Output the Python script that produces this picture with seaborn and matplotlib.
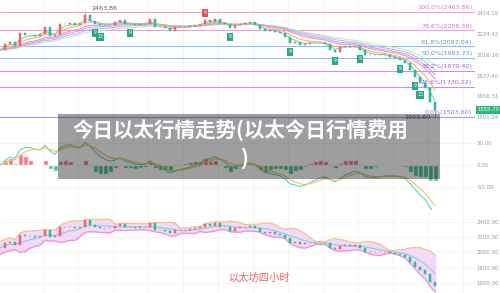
import numpy as np
import pandas as pd
import matplotlib
matplotlib.use("Agg")
import matplotlib.pyplot as plt
import matplotlib.transforms as mtrans
from matplotlib.patches import Rectangle
import seaborn as sns

# ---------------- data ----------------
close = [2061, 2120, 2140, 2100, 2232, 2212, 2212, 2201, 2222, 2296,
         2201, 2212, 2329, 2329, 2340, 2318, 2340, 2430, 2362, 2329,
         2318, 2318, 2318, 2351, 2373, 2329, 2329, 2318, 2329, 2329,
         2384, 2296, 2296, 2285, 2253, 2296, 2296, 2296, 2307, 2318,
         2329, 2373, 2351, 2384, 2340, 2329, 2285, 2318, 2329, 2340,
         2351, 2318, 2275, 2253, 2264, 2243, 2232, 2191, 2130, 2140,
         2110, 2120, 2130, 2130, 2130, 2120, 2061, 2042, 2090, 2100,
         2090, 2100, 2061, 2013, 2013, 2013, 2013, 2013, 1994, 1985,
         1966, 1939, 1876, 1815, 1765, 1724, 1615, 1555.7]
peak_high = 2463.86
peak_index = 17
last_low = 1503.60
last_price_label = "1555.70"

fib_pct = ["100.0%", "78.6%", "61.8%", "50.0%", "38.2%", "23.6%", "0.0%"]
fib_price = [2463.86, 2258.36, 2097.04, 1983.73, 1870.42, 1730.22, 1503.60]
fib_color = ["#f59ad8", "#f59ad8", "#93b8f2", "#93b8f2", "#c98ef0", "#c98ef0", "#a99af0"]
fib_text_color = ["#e070c8", "#e070c8", "#5f8fe6", "#5f8fe6", "#a562dc", "#a562dc", "#7f7ee8"]

ma_spans = [3, 6, 11, 14, 18, 23]
ma_colors = ["#6fd8c4", "#f8b85a", "#f58fcf", "#d6a0f0", "#9cc8f2", "#cfe8b0"]

main_ticks = [2454.19, 2224.42, 2016.16, 1827.40, 1656.31, 1501.24]
main_tick_labels = ["2454.19", "2224.42", "2016.16", "1827.40", "1656.31", "1501.24"]
macd_ticks = [50, 0, -50]
macd_tick_labels = ["50.00", "0.00", "-50.00"]
boll_ticks = [2400, 2200, 2000, 1800, 1600]
boll_tick_labels = ["2400.00", "2200.00", "2000.00", "1800.00", "1600.00"]

td_index = [19, 20, 26, 41, 46, 58, 67, 72, 80, 83, 84]
td_text = ["9", "13", "9", "9", "9", "9", "9", "9", "9", "9", "13"]
td_sell = [False, False, False, True, False, False, False, False, False, False, False]

title_line1 = "今日以太行情走势(以太今日行情费用"
title_line2 = ")"
caption = "以太坊四小时"

# ---------------- derived indicators ----------------
s = pd.Series(close, dtype=float)
idx = np.arange(len(s))
emas = [s.ewm(span=sp, adjust=False).mean() for sp in ma_spans]
dif = s.ewm(span=4.8, adjust=False).mean() - s.ewm(span=10.4, adjust=False).mean()
dea = dif.ewm(span=3.6, adjust=False).mean()
hist = 2 * (dif - dea)
mid = s.rolling(6, min_periods=1).mean()
sd = s.rolling(6, min_periods=2).std(ddof=1).bfill()
upper = mid + 2 * sd
lower = mid - 2 * sd

# ---------------- figure ----------------
sns.set_theme(style="white")
plt.rcParams['font.family'] = ['DejaVu Sans']
W, H = 500, 293
RIGHT = 475
fig = plt.figure(figsize=(W / 100, H / 100), dpi=100)
fig.patch.set_facecolor("white")

def rect(top, bottom):
    return [0, 1 - bottom / H, RIGHT / W, (bottom - top) / H]

ax1 = fig.add_axes(rect(0, 121))
ax2 = fig.add_axes(rect(121, 210))
ax3 = fig.add_axes(rect(210, 293))
XMAX = RIGHT / 5.0

UP, DOWN = "#f0646e", "#34b894"

def candles(ax, series, width=0.5):
    o = series.shift(1).fillna(series.iloc[0])
    cols = [UP if c >= op else DOWN for c, op in zip(series, o)]
    ax.bar(idx, (series - o).abs(), bottom=np.minimum(o, series), width=width,
           color=cols, edgecolor=cols, linewidth=0.35, zorder=4)

grid_x = np.arange(8.6, XMAX, 7)
for ax in (ax1, ax2, ax3):
    ax.set_xlim(0, XMAX)
    for gx in grid_x:
        ax.axvline(gx, color="#f3f3f3", lw=0.6, zorder=0)
    for sp in ax.spines.values():
        sp.set_visible(False)
    ax.set_xticks([])
    ax.yaxis.tick_right()
    ax.tick_params(axis="y", length=0, pad=1.2, labelsize=3.9, labelcolor="#9a9a9a")
    ax.set_xlabel("")
    ax.set_ylabel("")

# ---- main price panel ----
ax1.set_yscale("log")
for p, c in zip(fib_price, fib_color):
    ax1.axhline(p, color=c, lw=0.8, zorder=1)
for ema, c in zip(emas[::-1], ma_colors[::-1]):
    sns.lineplot(x=idx, y=ema.values, ax=ax1, color=c, lw=0.8, legend=False, zorder=3)
candles(ax1, s)
ax1.vlines(len(s) - 1, last_low, s.iloc[-1], color=UP, lw=0.5, zorder=4)
ax1.vlines(peak_index, s.iloc[peak_index], peak_high, color=UP, lw=0.5, zorder=4)
ax1.set_ylim(1475.6, 2606)
ax1.set_yticks(main_ticks)
ax1.set_yticklabels(main_tick_labels)
ax1.yaxis.set_minor_locator(matplotlib.ticker.NullLocator())
tr = mtrans.blended_transform_factory(ax1.transAxes, ax1.transData)
for pct, p, tc in zip(fib_pct, fib_price, fib_text_color):
    ax1.annotate(f"{pct}({p:.2f})", xy=(0.994, p), xycoords=tr, xytext=(0, 1.2),
                 textcoords="offset points", ha="right", va="bottom",
                 fontsize=4.6, color=tc, zorder=6)
ax1.annotate(f"{peak_high:.2f}", xy=(peak_index, peak_high), xytext=(5, 0.5),
             textcoords="offset points", ha="left", va="bottom", fontsize=4.6,
             color="#555555", arrowprops=dict(arrowstyle="-", color="#777777", lw=0.4))
ax1.annotate(f"{last_low:.2f}", xy=(len(s) - 1, last_low), xytext=(-3, 0),
             textcoords="offset points", ha="right", va="center", fontsize=4.6,
             color="#555555", zorder=6)
ax1.annotate(last_price_label, xy=(1.0, s.iloc[-1]), xycoords=tr, xytext=(1.6, 0),
             textcoords="offset points", ha="left", va="center", fontsize=3.9,
             color="white", annotation_clip=False, zorder=7,
             bbox=dict(boxstyle="square,pad=0.3", fc="#2cb67d", ec="none"))
for i, t, sell in zip(td_index, td_text, td_sell):
    off = 5.0 if sell else (-6.5 if t == "9" else -8.6)
    ax1.annotate(t, xy=(i, close[i]), xytext=(0, off), textcoords="offset points",
                 ha="center", va="center", fontsize=3.3, color="white", zorder=8,
                 bbox=dict(boxstyle="square,pad=0.3", fc="#e0505e" if sell else "#2aa883", ec="none"))

# ---- MACD panel ----
for yv in macd_ticks:
    ax2.axhline(yv, color="#f3f3f3", lw=0.6, zorder=0)
ax2.bar(idx, hist, width=1.0, color=[UP if h > 0 else DOWN for h in hist], alpha=0.85, zorder=2)
sns.lineplot(x=idx, y=dif.values, ax=ax2, color="#62d6c4", lw=0.8, legend=False, zorder=3)
sns.lineplot(x=idx, y=dea.values, ax=ax2, color="#f6c262", lw=0.8, legend=False, zorder=3)
for ln in ax2.lines:
    ln.set_clip_on(False)
ax2.set_ylim(-102.3, 100)
ax2.set_yticks(macd_ticks)
ax2.set_yticklabels(macd_tick_labels)

# ---- Bollinger panel ----
for yv in boll_ticks:
    ax3.axhline(yv, color="#f3f3f3", lw=0.6, zorder=0)
ax3.fill_between(idx, lower, upper, color="#f1d9f7", zorder=1)
sns.lineplot(x=idx, y=upper.values, ax=ax3, color="#f8c07e", lw=0.8, legend=False, zorder=2)
sns.lineplot(x=idx, y=lower.values, ax=ax3, color="#f08ccf", lw=0.8, legend=False, zorder=2)
sns.lineplot(x=idx, y=mid.values, ax=ax3, color="#7fd3d3", lw=0.8, legend=False, zorder=2)
candles(ax3, s, width=0.45)
ax3.set_ylim(1469, 2557)
ax3.set_yticks(boll_ticks)
ax3.set_yticklabels(boll_tick_labels)
ax3.text(260 / RIGHT, 1 - (278 - 210) / 83, caption, transform=ax3.transAxes, ha="center",
         va="center", fontsize=7.4, color="#f26262", family=["Noto Sans CJK SC", "DejaVu Sans"])

# ---- overlay title box ----
fig.patches.append(Rectangle((58 / W, 1 - 179 / H), (440 - 58) / W, (179 - 114) / H,
                             transform=fig.transFigure, fc="black", alpha=0.38, ec="none", zorder=20))
fig.text(240 / W, 1 - 130 / H, title_line1, ha="center", va="center", fontsize=14.8,
         color="white", weight="bold", family=["Noto Sans CJK SC", "DejaVu Sans"], zorder=21)
fig.text(245 / W, 1 - 158 / H, title_line2, ha="center", va="center", fontsize=14.8,
         color="white", weight="bold", family=["Noto Sans CJK SC", "DejaVu Sans"], zorder=21)

fig.savefig("out.png", dpi=100, facecolor="white")
